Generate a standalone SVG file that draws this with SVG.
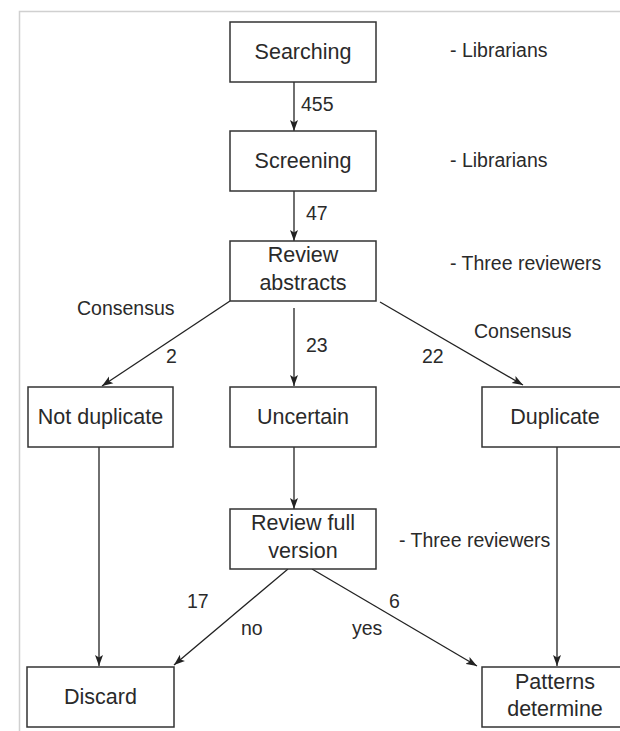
<svg xmlns="http://www.w3.org/2000/svg" width="620" height="731" viewBox="0 0 620 731">
<defs>
<marker id="ah" markerUnits="userSpaceOnUse" markerWidth="12" markerHeight="9" refX="11" refY="4.5" orient="auto">
<path d="M0,0.5 L11,4.5 L0,8.5 L2.5,4.5 z" fill="#222"/>
</marker>
<style>
.box{fill:#fff;stroke:#333;stroke-width:1.5}
.nt{font-family:"Liberation Sans",Arial,sans-serif;font-size:21.5px;fill:#2a2a2a;text-anchor:middle}
.lb{font-family:"Liberation Sans",Arial,sans-serif;font-size:19.5px;fill:#2a2a2a}
.ed{stroke:#222;stroke-width:1.3;fill:none;marker-end:url(#ah)}
.frame{stroke:#d0d0d0;stroke-width:1.5;fill:none}
</style>
</defs>
<rect width="620" height="731" fill="#fff"/>
<path class="frame" d="M620,11.5 H19.5 V731"/>

<g id="connectors">
<line class="ed" x1="294" y1="82" x2="294" y2="131"/>
<line class="ed" x1="294" y1="191" x2="294" y2="241"/>
<line class="ed" x1="230" y1="301" x2="102" y2="386"/>
<line class="ed" x1="294" y1="308" x2="294" y2="386"/>
<line class="ed" x1="380" y1="302" x2="523" y2="385"/>
<line class="ed" x1="294" y1="447" x2="294" y2="509"/>
<line class="ed" x1="99" y1="447" x2="99" y2="666"/>
<line class="ed" x1="557" y1="447" x2="557" y2="666"/>
<line class="ed" x1="288" y1="569" x2="174" y2="665"/>
<line class="ed" x1="312" y1="569" x2="477" y2="666"/>
<text class="lb" x="301" y="111">455</text>
<text class="lb" x="306" y="220">47</text>
<text class="lb" x="77" y="315">Consensus</text>
<text class="lb" x="166" y="363">2</text>
<text class="lb" x="306" y="352">23</text>
<text class="lb" x="422" y="363">22</text>
<text class="lb" x="474" y="338">Consensus</text>
<text class="lb" x="187" y="608">17</text>
<text class="lb" x="389" y="608">6</text>
<text class="lb" x="241" y="635">no</text>
<text class="lb" x="352" y="635">yes</text>
</g>

<g id="searching">
<rect class="box" x="230" y="22" width="146" height="60"/>
<text class="nt" x="303" y="59">Searching</text>
<text class="lb" x="450" y="57">- Librarians</text>
</g>
<g id="screening">
<rect class="box" x="230" y="131" width="146" height="60"/>
<text class="nt" x="303" y="168">Screening</text>
<text class="lb" x="450" y="167">- Librarians</text>
</g>
<g id="review-abstracts">
<rect class="box" x="230" y="241" width="146" height="60"/>
<text class="nt" x="303" y="262">Review</text>
<text class="nt" x="303" y="290">abstracts</text>
<text class="lb" x="450" y="270">- Three reviewers</text>
</g>
<g id="not-duplicate">
<rect class="box" x="28" y="387" width="145" height="60"/>
<text class="nt" x="100.5" y="424">Not duplicate</text>
</g>
<g id="uncertain">
<rect class="box" x="230" y="387" width="146" height="60"/>
<text class="nt" x="303" y="424">Uncertain</text>
</g>
<g id="duplicate">
<rect class="box" x="482" y="387" width="146" height="60"/>
<text class="nt" x="555" y="424">Duplicate</text>
</g>
<g id="review-full">
<rect class="box" x="230" y="509" width="146" height="60"/>
<text class="nt" x="303" y="530">Review full</text>
<text class="nt" x="303" y="558">version</text>
<text class="lb" x="399" y="547">- Three reviewers</text>
</g>
<g id="discard">
<rect class="box" x="27" y="667" width="147" height="60"/>
<text class="nt" x="100.5" y="704">Discard</text>
</g>
<g id="patterns">
<rect class="box" x="482" y="667" width="146" height="60"/>
<text class="nt" x="555" y="689">Patterns</text>
<text class="nt" x="555" y="716">determine</text>
</g>
</svg>
